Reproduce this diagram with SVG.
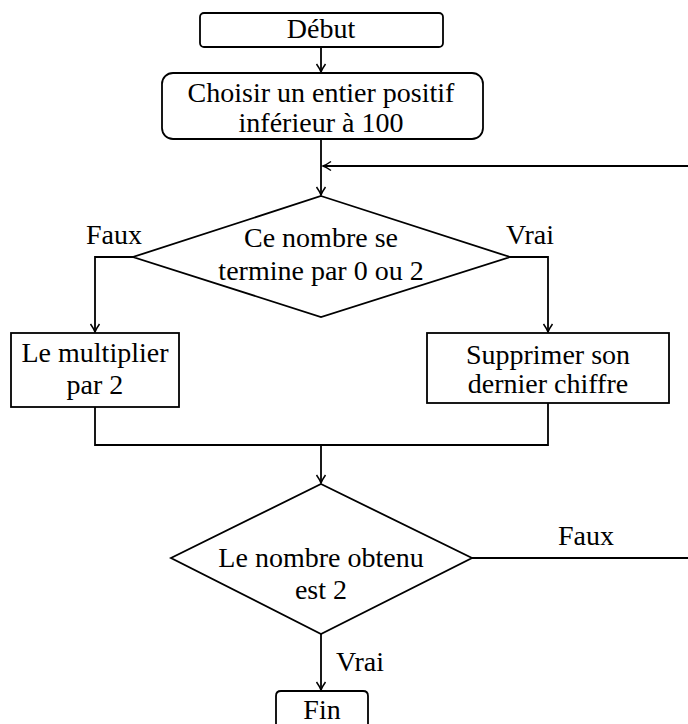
<svg xmlns="http://www.w3.org/2000/svg" width="688" height="724" viewBox="0 0 688 724">
<style>
.s{fill:#fff;stroke:#000;stroke-width:1.8}
.c{fill:none;stroke:#000;stroke-width:1.8}
text{font-family:"Liberation Serif","Times New Roman",serif;font-size:28px;fill:#000;text-anchor:middle}
</style>
<defs>
<marker id="ah" markerWidth="12" markerHeight="12" viewBox="-10 -6 12 12" refX="0" refY="0" orient="auto" markerUnits="userSpaceOnUse">
<path d="M-8,-4.5 Q-3,-1 0,0 Q-3,1 -8,4.5" fill="none" stroke="#000" stroke-width="1.5"/>
</marker>
</defs>
<rect width="688" height="724" fill="#fff"/>
<g id="connectors">
<line class="c" x1="321" y1="47" x2="321" y2="72" marker-end="url(#ah)"/>
<line class="c" x1="321" y1="139" x2="321" y2="195" marker-end="url(#ah)"/>
<line class="c" x1="690" y1="166" x2="323" y2="166" marker-end="url(#ah)"/>
<polyline class="c" points="133,257 95,257 95,332" marker-end="url(#ah)"/>
<polyline class="c" points="510,257 548,257 548,332" marker-end="url(#ah)"/>
<polyline class="c" points="95,407 95,445 548,445 548,403"/>
<line class="c" x1="321" y1="445" x2="321" y2="483" marker-end="url(#ah)"/>
<line class="c" x1="472" y1="558" x2="690" y2="558"/>
<line class="c" x1="321" y1="634" x2="321" y2="690" marker-end="url(#ah)"/>
<text x="114" y="244">Faux</text>
<text x="530" y="244">Vrai</text>
<text x="586" y="545">Faux</text>
<text x="360" y="671">Vrai</text>
</g>
<g id="debut">
<rect class="s" x="200" y="13" width="243" height="34" rx="4"/>
<text x="321" y="38">Début</text>
</g>
<g id="choisir">
<rect class="s" x="162" y="73" width="321" height="66" rx="11"/>
<text x="321" y="102">Choisir un entier positif</text>
<text x="321" y="132">inférieur à 100</text>
</g>
<g id="test1">
<polygon class="s" points="321,196 510,257 321,317 133,257"/>
<text x="321" y="247">Ce nombre se</text>
<text x="321" y="280">termine par 0 ou 2</text>
</g>
<g id="multiplier">
<rect class="s" x="11" y="333" width="168" height="74"/>
<text x="95" y="362">Le multiplier</text>
<text x="95" y="394">par 2</text>
</g>
<g id="supprimer">
<rect class="s" x="427" y="333" width="242" height="70"/>
<text x="548" y="364">Supprimer son</text>
<text x="548" y="393">dernier chiffre</text>
</g>
<g id="test2">
<polygon class="s" points="321,484 472,558 321,634 171,558"/>
<text x="321" y="567">Le nombre obtenu</text>
<text x="321" y="599">est 2</text>
</g>
<g id="fin">
<path class="s" d="M276,730 L276,696 Q276,691 281,691 L363,691 Q368,691 368,696 L368,730"/>
<text x="322" y="719">Fin</text>
</g>
</svg>
